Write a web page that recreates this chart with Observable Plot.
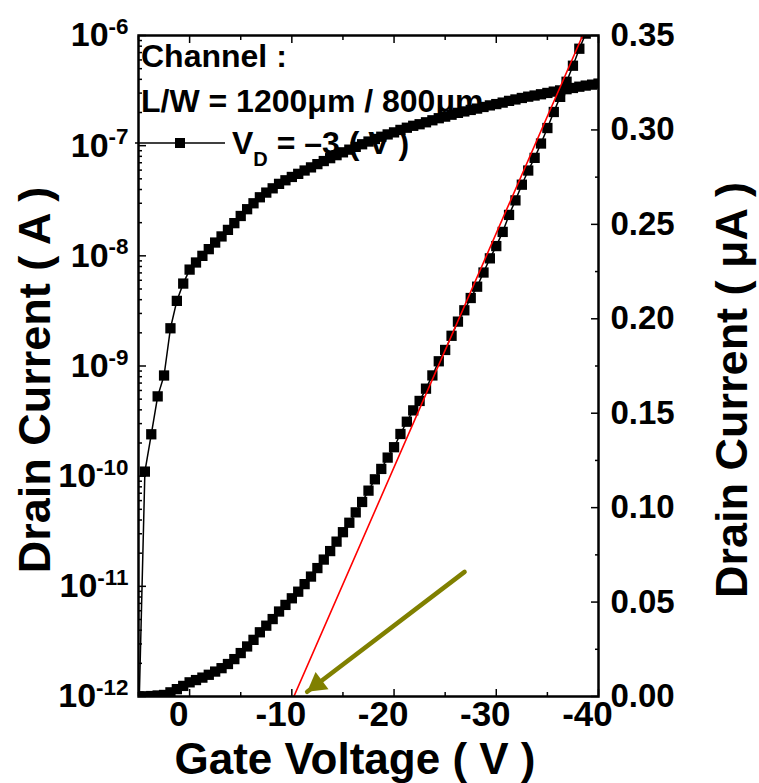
<!DOCTYPE html>
<html><head><meta charset="utf-8">
<script src="https://cdn.jsdelivr.net/npm/d3@7"></script>
<script src="https://cdn.jsdelivr.net/npm/@observablehq/plot@0.6"></script>
<style>
html,body{margin:0;padding:0;background:#fff;}
#wrap{position:relative;width:759px;height:783px;overflow:hidden;background:#fff;}
#wrap svg{position:absolute;left:0;top:0;}
svg text{font-family:"Liberation Sans",Arial,sans-serif;font-weight:bold;}
</style></head><body><div id="wrap"></div>
<script>
// ---- data ----
const gateVoltage = [5, 4.375, 3.75, 3.125, 2.5, 1.875, 1.25, 0.625, 0,
  -0.625, -1.25, -1.875, -2.5, -3.125, -3.75, -4.375, -5, -5.625, -6.25, -6.875,
  -7.5, -8.125, -8.75, -9.375, -10, -10.625, -11.25, -11.875, -12.5, -13.125,
  -13.75, -14.375, -15, -15.625, -16.25, -16.875, -17.5, -18.125, -18.75, -19.375,
  -20, -20.625, -21.25, -21.875, -22.5, -23.125, -23.75, -24.375, -25, -25.625,
  -26.25, -26.875, -27.5, -28.125, -28.75, -29.375, -30, -30.625, -31.25, -31.875,
  -32.5, -33.125, -33.75, -34.375, -35, -35.625, -36.25, -36.875, -37.5, -38.125,
  -38.75, -39.375, -40];
// drain current in A
const drainCurrent = [5e-13, 1.1e-10, 2.4e-10, 5.3e-10, 8.2e-10, 2.2e-9, 3.9e-9, 5.6e-9, 7.5e-9,
  8.7e-9, 1.0e-8, 1.15e-8, 1.32e-8, 1.5e-8, 1.72e-8, 1.98e-8, 2.3e-8, 2.65e-8, 3.0e-8, 3.4e-8,
  3.75e-8, 4.1e-8, 4.5e-8, 4.85e-8, 5.2e-8, 5.55e-8, 5.95e-8, 6.35e-8, 6.8e-8, 7.25e-8,
  7.7e-8, 8.2e-8, 8.7e-8, 9.2e-8, 9.75e-8, 1.03e-7, 1.09e-7, 1.15e-7, 1.205e-7, 1.265e-7,
  1.32e-7, 1.39e-7, 1.455e-7, 1.515e-7, 1.565e-7, 1.63e-7, 1.70e-7, 1.775e-7, 1.835e-7, 1.91e-7,
  1.985e-7, 2.045e-7, 2.11e-7, 2.17e-7, 2.245e-7, 2.32e-7, 2.385e-7, 2.46e-7, 2.55e-7, 2.627e-7,
  2.71e-7, 2.785e-7, 2.852e-7, 2.928e-7, 3.01e-7, 3.095e-7, 3.175e-7, 3.255e-7, 3.34e-7, 3.43e-7,
  3.51e-7, 3.58e-7, 3.66e-7];
const fitVoltage = [-10.2, -38.45];
const fitCurrentMicro = [0, 0.35];
const arrowVoltage = [-26.9, -11.5];
const arrowCurrentMicro = [0.066, 0.0025];
const xMajorTicks = [0, -10, -20, -30, -40];
const xMinorTicks = [5, -5, -15, -25, -35];
const xTickLabels = ["0", "-10", "-20", "-30", "-40"];
const logMajorTicks = [1e-12, 1e-11, 1e-10, 1e-9, 1e-8, 1e-7, 1e-6];
const logTickLabels = ["10|-12", "10|-11", "10|-10", "10|-9", "10|-8", "10|-7", "10|-6"];
const linMajorTicks = [0, 0.05, 0.10, 0.15, 0.20, 0.25, 0.30, 0.35];
const linTickLabels = ["0.00", "0.05", "0.10", "0.15", "0.20", "0.25", "0.30", "0.35"];
const linMinorTicks = [0.025, 0.075, 0.125, 0.175, 0.225, 0.275, 0.325];
const xTitle = "Gate Voltage ( V )";
const yLeftTitle = "Drain Current ( A )";
const yRightTitle = "Drain Current ( \u03BCA )";

// ---- build ----
const rows = gateVoltage.map((v, i) => ({v, a: drainCurrent[i], ua: drainCurrent[i] * 1e6}));
const fitRows = fitVoltage.map((v, i) => ({v, ua: fitCurrentMicro[i]}));
const arrowRows = [{x1: arrowVoltage[0], y1: arrowCurrentMicro[0], x2: arrowVoltage[1], y2: arrowCurrentMicro[1]}];
const logMinorTicks = [];
logMajorTicks.slice(0, -1).forEach(m => { for (let k = 2; k <= 9; k++) logMinorTicks.push(m * k); });

const common = {
  width: 759, height: 783,
  marginTop: 35, marginRight: 161, marginBottom: 87, marginLeft: 138,
  style: {background: "transparent", overflow: "visible"}
};
const blank = () => "";

const logPlot = Plot.plot({
  ...common,
  x: {domain: [5, -40]},
  y: {type: "log", domain: [1e-12, 1e-6]},
  marks: [
    Plot.line(rows, {x: "v", y: "a", stroke: "black", strokeWidth: 1.5, clip: true}),
    Plot.dot(rows, {x: "v", y: "a", symbol: "square", r: 5.8, fill: "black", clip: true}),
    Plot.axisY({anchor: "left", ticks: logMajorTicks, tickSize: 8, dx: 8, tickFormat: blank, label: null, strokeWidth: 1.5}),
    Plot.axisY({anchor: "left", ticks: logMinorTicks, tickSize: 4, dx: 4, tickFormat: blank, label: null, strokeWidth: 1.5}),
    Plot.axisY({anchor: "left", ticks: logMajorTicks, tickSize: 0, tickPadding: 10, label: null, fontSize: 34,
      tickFormat: d => logTickLabels[logMajorTicks.findIndex(t => Math.abs(Math.log10(t) - Math.log10(d)) < 1e-6)]}),
    Plot.axisX({anchor: "bottom", ticks: xMajorTicks, tickSize: 7, dy: -7, tickFormat: blank, label: null, strokeWidth: 1.5}),
    Plot.axisX({anchor: "bottom", ticks: xMinorTicks, tickSize: 4, dy: -4, tickFormat: blank, label: null, strokeWidth: 1.5}),
    Plot.axisX({anchor: "top", ticks: xMajorTicks, tickSize: 7, dy: 7, tickFormat: blank, label: null, strokeWidth: 1.5}),
    Plot.axisX({anchor: "top", ticks: xMinorTicks, tickSize: 4, dy: 4, tickFormat: blank, label: null, strokeWidth: 1.5}),
    Plot.axisX({anchor: "bottom", ticks: xMajorTicks, tickSize: 0, tickPadding: 5, dx: -11, fontSize: 35, label: null,
      tickFormat: d => xTickLabels[xMajorTicks.indexOf(d)]})
  ]
});

const linPlot = Plot.plot({
  ...common,
  x: {domain: [5, -40], axis: null},
  y: {domain: [0, 0.35]},
  marks: [
    Plot.line(rows, {x: "v", y: "ua", stroke: "black", strokeWidth: 1.5, clip: true}),
    Plot.dot(rows, {x: "v", y: "ua", symbol: "square", r: 5.8, fill: "black", clip: true}),
    Plot.line(fitRows, {x: "v", y: "ua", stroke: "#ff0000", strokeWidth: 1.6, clip: true}),
    Plot.link(arrowRows, {x1: "x1", y1: "y1", x2: "x2", y2: "y2", stroke: "#808000", strokeWidth: 4.5, strokeLinecap: "round"}),
    Plot.dot(arrowRows, {x: "x2", y: "y2", symbol: "triangle", r: 8, rotate: 233, fill: "#808000", dx: 9.9, dy: -7.5}),
    Plot.axisY({anchor: "right", ticks: linMajorTicks, tickSize: 8, dx: -8, tickFormat: blank, label: null, strokeWidth: 1.5}),
    Plot.axisY({anchor: "right", ticks: linMinorTicks, tickSize: 4, dx: -4, tickFormat: blank, label: null, strokeWidth: 1.5}),
    Plot.axisY({anchor: "right", ticks: linMajorTicks, tickSize: 0, tickPadding: 12, label: null, fontSize: 33,
      tickFormat: d => linTickLabels[linMajorTicks.findIndex(t => Math.abs(t - d) < 1e-9)]}),
    Plot.frame({stroke: "black", strokeWidth: 2.5})
  ]
});

const wrap = document.getElementById("wrap");
wrap.appendChild(logPlot);
wrap.appendChild(linPlot);

// superscript exponents on log tick labels
d3.select(logPlot).selectAll('g[aria-label="y-axis tick label"] text').each(function () {
  const t = this.textContent;
  if (!t.includes("|")) return;
  const [b, e] = t.split("|");
  this.textContent = "";
  d3.select(this).append("tspan").text(b);
  d3.select(this).append("tspan").attr("dy", "-0.55em").attr("font-size", "0.66em").text(e);
});

// titles and annotation
const s = d3.select(linPlot);
s.append("text").attr("x", 355).attr("y", 774).attr("text-anchor", "middle").attr("font-size", 44).text(xTitle);
s.append("text").attr("transform", "translate(50,380) rotate(-90)").attr("text-anchor", "middle").attr("font-size", 45).text(yLeftTitle);
s.append("text").attr("transform", "translate(747,390) rotate(-90)").attr("text-anchor", "middle").attr("font-size", 45).text(yRightTitle);

const ann = s.append("g").attr("font-size", 32).attr("text-anchor", "start");
ann.append("text").attr("x", 141).attr("y", 67).text("Channel :");
ann.append("text").attr("x", 141).attr("y", 112).text("L/W = 1200\u03BCm / 800\u03BCm");
ann.append("line").attr("x1", 135).attr("x2", 225).attr("y1", 143).attr("y2", 143).attr("stroke", "black").attr("stroke-width", 1.5);
ann.append("rect").attr("x", 175).attr("y", 138).attr("width", 10).attr("height", 10).attr("fill", "black");
const vd = ann.append("text").attr("x", 232).attr("y", 154);
vd.append("tspan").text("V");
vd.append("tspan").attr("font-size", 20).attr("dy", 12).text("D");
vd.append("tspan").attr("dy", -12).text(" = \u20133 ( V )");
</script></body></html>
